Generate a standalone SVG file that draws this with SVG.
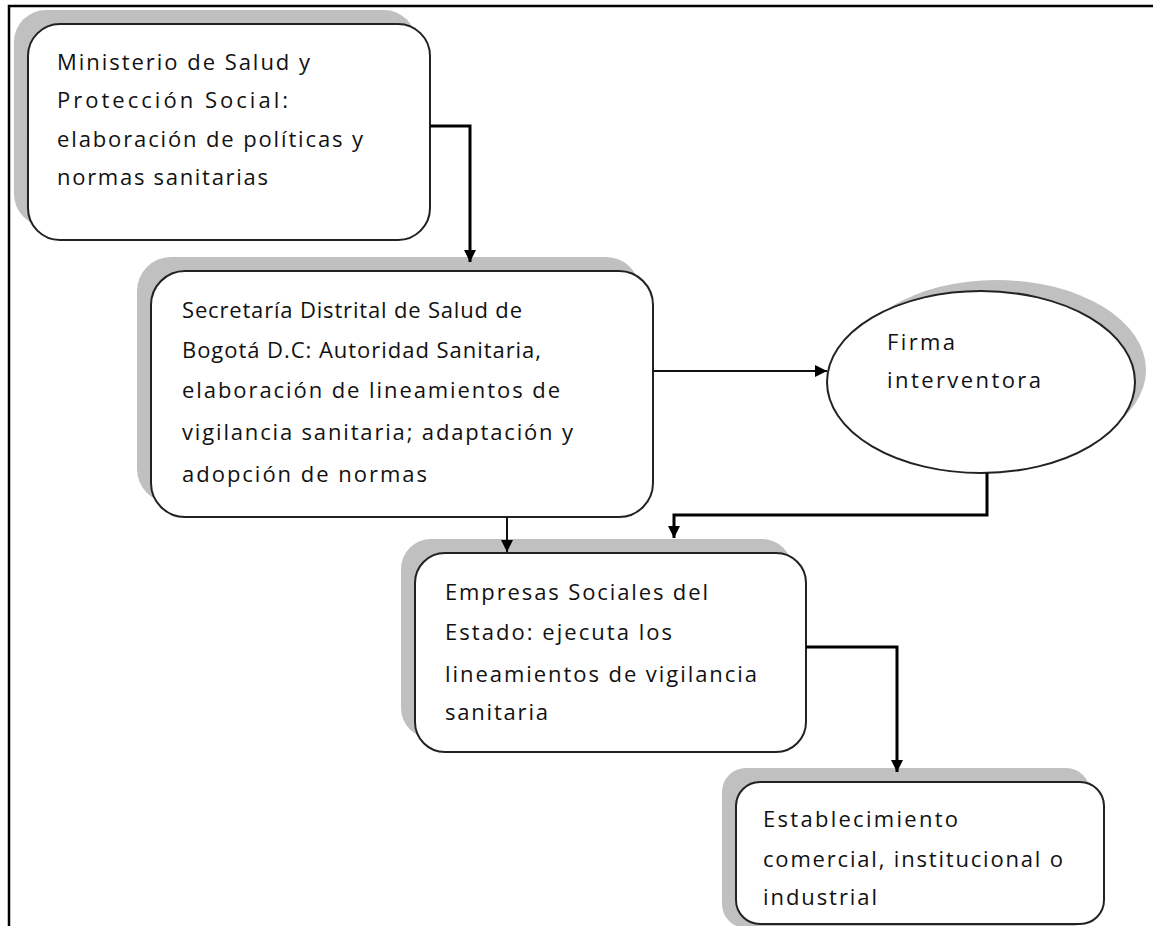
<svg xmlns="http://www.w3.org/2000/svg" width="1153" height="926" viewBox="0 0 1153 926">
<style>
  .shadow { fill: #c0c0c0; }
  .box { fill: #ffffff; stroke: #222222; stroke-width: 2; }
  .t { font-family: "Open Sans", "Liberation Sans", sans-serif; font-size: 22px; fill: #111111; }
  .thick { fill: none; stroke: #000000; stroke-width: 3; }
  .thin { fill: none; stroke: #111111; stroke-width: 2; }
</style>
<defs>
  <marker id="arr" markerUnits="userSpaceOnUse" markerWidth="14" markerHeight="14" refX="12" refY="6" orient="auto">
    <path d="M0,0 L12,6 L0,12 Z" fill="#000000"/>
  </marker>
</defs>
<rect x="0" y="0" width="1153" height="926" fill="#ffffff"/>
<g id="frame">
  <path d="M9,926 V6 H1153" fill="none" stroke="#000000" stroke-width="2.5"/>
</g>
<g id="ministerio">
  <rect class="shadow" x="14" y="10" width="402" height="216" rx="32"/>
  <rect class="box" x="28" y="24" width="402" height="216" rx="32"/>
  <text class="t" x="57" y="70" textLength="253" lengthAdjust="spacing">Ministerio de Salud y</text>
  <text class="t" x="57" y="108" textLength="231" lengthAdjust="spacing">Protección Social:</text>
  <text class="t" x="57" y="147" textLength="306" lengthAdjust="spacing">elaboración de políticas y</text>
  <text class="t" x="57" y="185" textLength="211" lengthAdjust="spacing">normas sanitarias</text>
</g>
<g id="secretaria">
  <rect class="shadow" x="137" y="257" width="503" height="246" rx="34"/>
  <rect class="box" x="151" y="271" width="502" height="246" rx="34"/>
  <text class="t" x="182" y="318" textLength="340" lengthAdjust="spacing">Secretaría Distrital de Salud de</text>
  <text class="t" x="182" y="358" textLength="359" lengthAdjust="spacing">Bogotá D.C: Autoridad Sanitaria,</text>
  <text class="t" x="182" y="398" textLength="378" lengthAdjust="spacing">elaboración de lineamientos de</text>
  <text class="t" x="182" y="440" textLength="391" lengthAdjust="spacing">vigilancia sanitaria; adaptación y</text>
  <text class="t" x="182" y="482" textLength="245" lengthAdjust="spacing">adopción de normas</text>
</g>
<g id="firma">
  <ellipse class="shadow" cx="997" cy="370" rx="149" ry="90"/>
  <ellipse class="box" cx="981" cy="382" rx="154" ry="91"/>
  <text class="t" x="887" y="350" textLength="68" lengthAdjust="spacing">Firma</text>
  <text class="t" x="887" y="388" textLength="154" lengthAdjust="spacing">interventora</text>
</g>
<g id="empresas">
  <rect class="shadow" x="401" y="539" width="391" height="199" rx="30"/>
  <rect class="box" x="415" y="553" width="391" height="199" rx="30"/>
  <text class="t" x="445" y="600" textLength="263" lengthAdjust="spacing">Empresas Sociales del</text>
  <text class="t" x="445" y="640" textLength="227" lengthAdjust="spacing">Estado: ejecuta los</text>
  <text class="t" x="445" y="682" textLength="312" lengthAdjust="spacing">lineamientos de vigilancia</text>
  <text class="t" x="445" y="720" textLength="103" lengthAdjust="spacing">sanitaria</text>
</g>
<g id="establecimiento">
  <rect class="shadow" x="722" y="768" width="368" height="160" rx="24"/>
  <rect class="box" x="736" y="782" width="368" height="142" rx="24"/>
  <text class="t" x="763" y="827" textLength="195" lengthAdjust="spacing">Establecimiento</text>
  <text class="t" x="763" y="867" textLength="300" lengthAdjust="spacing">comercial, institucional o</text>
  <text class="t" x="763" y="905" textLength="114" lengthAdjust="spacing">industrial</text>
</g>
<g id="connectors">
  <path class="thick" d="M430,126 H470 V262" marker-end="url(#arr)"/>
  <path class="thin" d="M653,371 H827" marker-end="url(#arr)"/>
  <path class="thick" d="M987,473 V515 H674 V538" marker-end="url(#arr)"/>
  <path class="thin" d="M507,517 V552" marker-end="url(#arr)"/>
  <path class="thick" d="M806,647 H897 V772" marker-end="url(#arr)"/>
</g>
</svg>
